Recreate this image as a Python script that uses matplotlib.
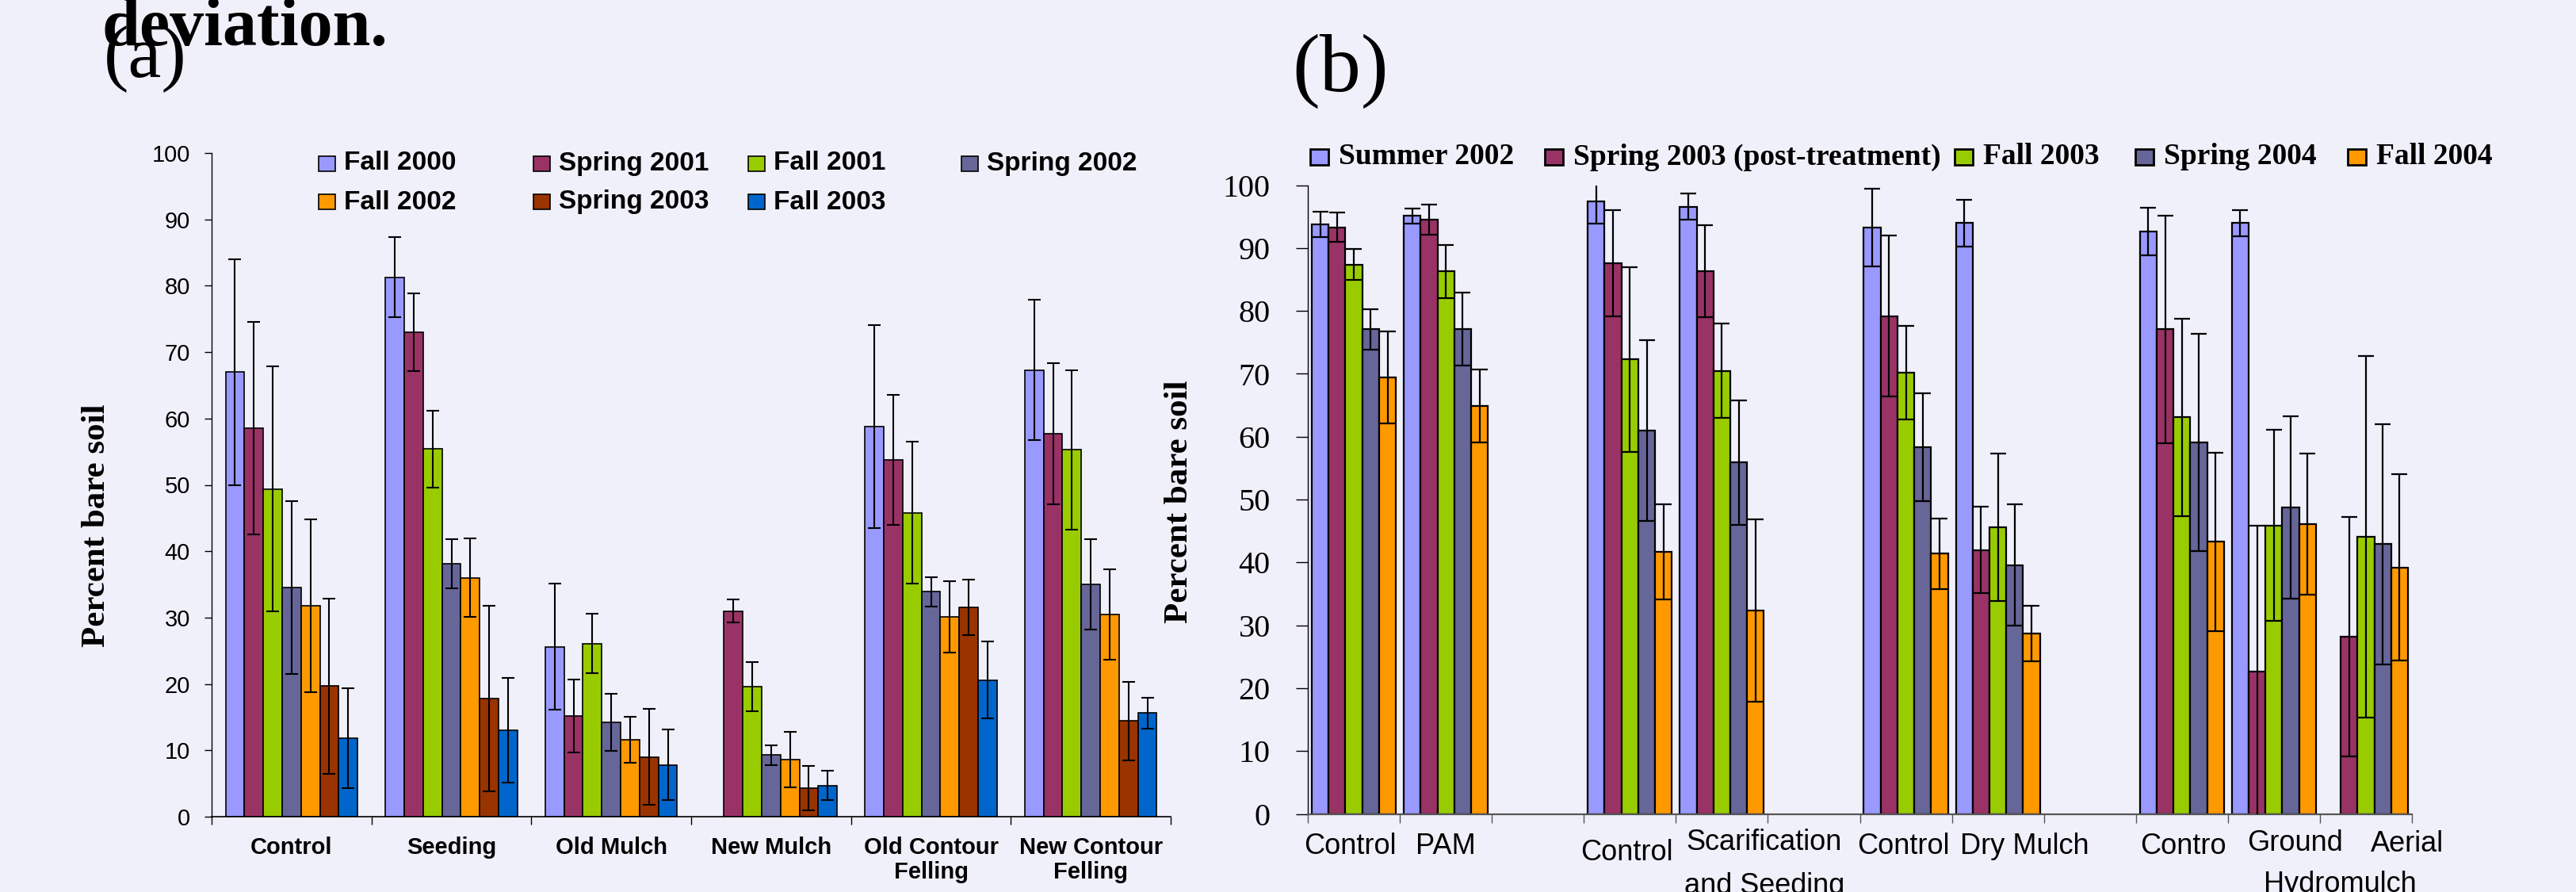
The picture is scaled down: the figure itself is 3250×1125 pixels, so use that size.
import numpy as np
import matplotlib
matplotlib.use("Agg")
import matplotlib.pyplot as plt
from matplotlib.patches import Rectangle

W_PX, H_PX, DPI = 3250, 1125, 100
BG = "#F0F0FA"
SANS = ["Liberation Sans", "DejaVu Sans"]
SERIF = ["Liberation Serif", "DejaVu Serif"]

# ── panel (a) data ───────────────────────────────────────────────────────────
a_cats = ["Control", "Seeding", "Old Mulch", "New Mulch",
          "Old Contour\nFelling", "New Contour\nFelling"]
a_series = ["Fall 2000", "Spring 2001", "Fall 2001", "Spring 2002",
            "Fall 2002", "Spring 2003", "Fall 2003"]
a_colors = ["#9999FF", "#993366", "#99CC00", "#666699",
            "#FF9900", "#993300", "#0066CC"]

a_fall2000 = [67.0, 81.3, 25.6, np.nan, 58.8, 67.3]
a_fall2000_sd = [17.0, 6.0, 9.5, np.nan, 15.3, 10.6]
a_spring2001 = [58.5, 73.0, 15.2, 31.0, 53.8, 57.7]
a_spring2001_sd = [16.0, 5.8, 5.5, 1.7, 9.8, 10.6]
a_fall2001 = [49.4, 55.4, 26.1, 19.6, 45.8, 55.3]
a_fall2001_sd = [18.5, 5.8, 4.5, 3.7, 10.7, 12.0]
a_spring2002 = [34.5, 38.1, 14.2, 9.3, 33.9, 35.0]
a_spring2002_sd = [13.0, 3.7, 4.3, 1.5, 2.2, 6.8]
a_fall2002 = [31.8, 36.0, 11.6, 8.6, 30.1, 30.5]
a_fall2002_sd = [13.0, 5.9, 3.5, 4.2, 5.4, 6.8]
a_spring2003 = [19.7, 17.8, 9.0, 4.3, 31.5, 14.4]
a_spring2003_sd = [13.2, 14.0, 7.2, 3.3, 4.2, 5.9]
a_fall2003 = [11.8, 13.0, 7.8, 4.7, 20.6, 15.6]
a_fall2003_sd = [7.5, 7.9, 5.3, 2.2, 5.8, 2.3]

a_values = [a_fall2000, a_spring2001, a_fall2001, a_spring2002,
            a_fall2002, a_spring2003, a_fall2003]
a_errors = [a_fall2000_sd, a_spring2001_sd, a_fall2001_sd, a_spring2002_sd,
            a_fall2002_sd, a_spring2003_sd, a_fall2003_sd]

# ── panel (b) data ───────────────────────────────────────────────────────────
b_series = ["Summer 2002", "Spring 2003 (post-treatment)", "Fall 2003",
            "Spring 2004", "Fall 2004"]
b_colors = ["#9999FF", "#993366", "#99CC00", "#666699", "#FF9900"]
b_slots = [0, 1, 3, 4, 6, 7, 9, 10, 11]   # 12 slots, 2/5/8 empty

b_summer2002 = [93.8, 95.1, 97.4, 96.6, 93.3, 94.0, 92.6, 94.0, np.nan]
b_summer2002_sd = [2.0, 1.2, 3.5, 2.1, 6.2, 3.7, 3.8, 2.1, np.nan]
b_spring2003 = [93.3, 94.5, 87.6, 86.3, 79.2, 42.0, 77.1, 22.6, 28.2]
b_spring2003_sd = [2.3, 2.4, 8.5, 7.3, 12.8, 6.9, 18.1, 23.3, 19.0]
b_fall2003 = [87.4, 86.3, 72.3, 70.5, 70.2, 45.6, 63.1, 45.9, 44.1]
b_fall2003_sd = [2.5, 4.2, 14.7, 7.5, 7.4, 11.7, 15.7, 15.2, 28.8]
b_spring2004 = [77.1, 77.1, 61.0, 55.9, 58.3, 39.6, 59.1, 48.8, 42.9]
b_spring2004_sd = [3.2, 5.8, 14.4, 9.9, 8.6, 9.6, 17.3, 14.5, 19.1]
b_fall2004 = [69.4, 64.9, 41.7, 32.3, 41.4, 28.7, 43.3, 46.1, 39.2]
b_fall2004_sd = [7.3, 5.8, 7.6, 14.5, 5.6, 4.4, 14.2, 11.2, 14.8]

b_values = [b_summer2002, b_spring2003, b_fall2003, b_spring2004, b_fall2004]
b_errors = [b_summer2002_sd, b_spring2003_sd, b_fall2003_sd,
            b_spring2004_sd, b_fall2004_sd]

b_labels = ["Control", "PAM", "Control", "Scarification\nand Seeding",
            "Control", "Dry Mulch", "Contro", "Ground", "Hydromulch", "Aerial"]
b_label_x = [0.46, 1.50, 3.47, 4.96, 6.47, 7.79, 9.51, 10.73, 11.22, 11.95]
b_label_y = [-0.052, -0.052, -0.062, -0.080, -0.052, -0.052, -0.052,
             -0.046, -0.112, -0.048]


def fx(px):
    return px / W_PX


def fy(py):
    return 1 - py / H_PX


fig = plt.figure(figsize=(W_PX / DPI, H_PX / DPI), dpi=DPI)
fig.patch.set_facecolor(BG)

# ── panel (a) ────────────────────────────────────────────────────────────────
ax_a = fig.add_axes([fx(267), fy(1030), fx(1477) - fx(267), fy(193) - fy(1030)])
ax_a.set_facecolor(BG)
bw = 0.118
xc = np.arange(len(a_cats)) + 0.5
for i, (vals, errs) in enumerate(zip(a_values, a_errors)):
    v = np.array(vals)
    e = np.array(errs)
    ok = ~np.isnan(v)
    xs = xc[ok] + (i - 3) * bw
    ax_a.bar(xs, v[ok], width=bw, color=a_colors[i], edgecolor="black",
             linewidth=1.2, zorder=2)
    ax_a.errorbar(xs, v[ok], yerr=e[ok], fmt="none", ecolor="black",
                  elinewidth=1.5, capsize=5.5, capthick=1.5, zorder=3)

ax_a.set_xlim(0, len(a_cats))
ax_a.set_ylim(0, 100)
ax_a.set_yticks(np.arange(0, 101, 10))
ax_a.set_xticks(np.arange(0, len(a_cats) + 1))
ax_a.set_xticklabels([])
ax_a.set_xticks(xc, minor=True)
ax_a.set_xticklabels(a_cats, minor=True, fontweight="bold", fontsize=21,
                     family=SANS, linespacing=1.15)
ax_a.tick_params(axis="x", which="major", direction="out", length=7, width=1)
ax_a.tick_params(axis="x", which="minor", length=0, pad=18)
ax_a.tick_params(axis="y", direction="out", length=6.5, width=1, pad=13,
                 labelsize=21)
for t in ax_a.get_yticklabels():
    t.set_family(SANS)
for s in ["top", "right"]:
    ax_a.spines[s].set_visible(False)
ax_a.spines["left"].set_linewidth(1.0)
ax_a.spines["bottom"].set_linewidth(1.2)

# legend (a): two rows, four evenly spaced columns
a_leg_x = [402, 673, 944, 1213]
a_leg_y = [206, 255]
for i, name in enumerate(a_series):
    r, c = divmod(i, 4)
    x, y = a_leg_x[c], a_leg_y[r]
    fig.add_artist(Rectangle((fx(x), fy(y + 9.5)), 21 / W_PX, 19 / H_PX,
                             transform=fig.transFigure, facecolor=a_colors[i],
                             edgecolor="black", linewidth=1.2))
    fig.text(fx(x + 32), fy(y), name, ha="left", va="center",
             fontsize=24, fontweight="bold", family=SANS)

fig.text(fx(122), fy(663), "Percent bare soil", rotation=90, ha="center",
         va="center", fontsize=31, fontweight="bold", family=SERIF)

# ── panel (b) ────────────────────────────────────────────────────────────────
ax_b = fig.add_axes([fx(1650), fy(1026.6), fx(3043) - fx(1650),
                     fy(233.6) - fy(1026.6)])
ax_b.set_facecolor(BG)
bw2 = 0.183
sc = np.array(b_slots) + 0.5
for i, (vals, errs) in enumerate(zip(b_values, b_errors)):
    v = np.array(vals)
    e = np.array(errs)
    ok = ~np.isnan(v)
    xs = sc[ok] + (i - 2) * bw2
    ax_b.bar(xs, v[ok], width=bw2, color=b_colors[i], edgecolor="black",
             linewidth=1.6, zorder=2)
    ax_b.errorbar(xs, v[ok], yerr=e[ok], fmt="none", ecolor="black",
                  elinewidth=1.6, capsize=7.5, capthick=1.6, zorder=3)

ax_b.set_xlim(0, 12)
ax_b.set_ylim(0, 100)
ax_b.set_yticks(np.arange(0, 101, 10))
ax_b.set_xticks(np.arange(0, 13))
ax_b.set_xticklabels([])
ax_b.tick_params(axis="x", direction="out", length=8, width=1, color="#555555")
ax_b.tick_params(axis="y", direction="out", length=11, width=1, pad=23,
                 labelsize=29)
for t in ax_b.get_yticklabels():
    t.set_family(SERIF)
for s in ["top", "right"]:
    ax_b.spines[s].set_visible(False)
ax_b.spines["left"].set_linewidth(1.0)
ax_b.spines["bottom"].set_linewidth(1.6)
ax_b.spines["bottom"].set_color("#555555")

for lab, x, y in zip(b_labels, b_label_x, b_label_y):
    ax_b.text(x, y, lab, transform=ax_b.get_xaxis_transform(), ha="center",
              va="center", fontsize=26, family=SANS, linespacing=1.75,
              clip_on=False)

# legend (b): one row
b_leg_x = [1653, 1949, 2466, 2694, 2962]
for i, name in enumerate(b_series):
    x = b_leg_x[i]
    fig.add_artist(Rectangle((fx(x), fy(208)), 23 / W_PX, 20 / H_PX,
                             transform=fig.transFigure, facecolor=b_colors[i],
                             edgecolor="black", linewidth=2))
    fig.text(fx(x + 36), fy(198), name, ha="left", va="center",
             fontsize=27, fontweight="bold", family=SERIF)

fig.text(fx(1488), fy(633), "Percent bare soil", rotation=90, ha="center",
         va="center", fontsize=31, fontweight="bold", family=SERIF)

# ── panel titles and clipped caption fragment ────────────────────────────────
fig.text(fx(129), fy(57), "deviation.", ha="left", va="baseline",
         fontsize=62, fontweight="bold", family=SERIF)
fig.text(fx(131), fy(97), "(a)", ha="left", va="baseline",
         fontsize=68, family=SERIF)
fig.text(fx(1630), fy(115), "(b)", ha="left", va="baseline",
         fontsize=75, family=SERIF)

fig.savefig("out.png", dpi=DPI, facecolor=fig.get_facecolor())
